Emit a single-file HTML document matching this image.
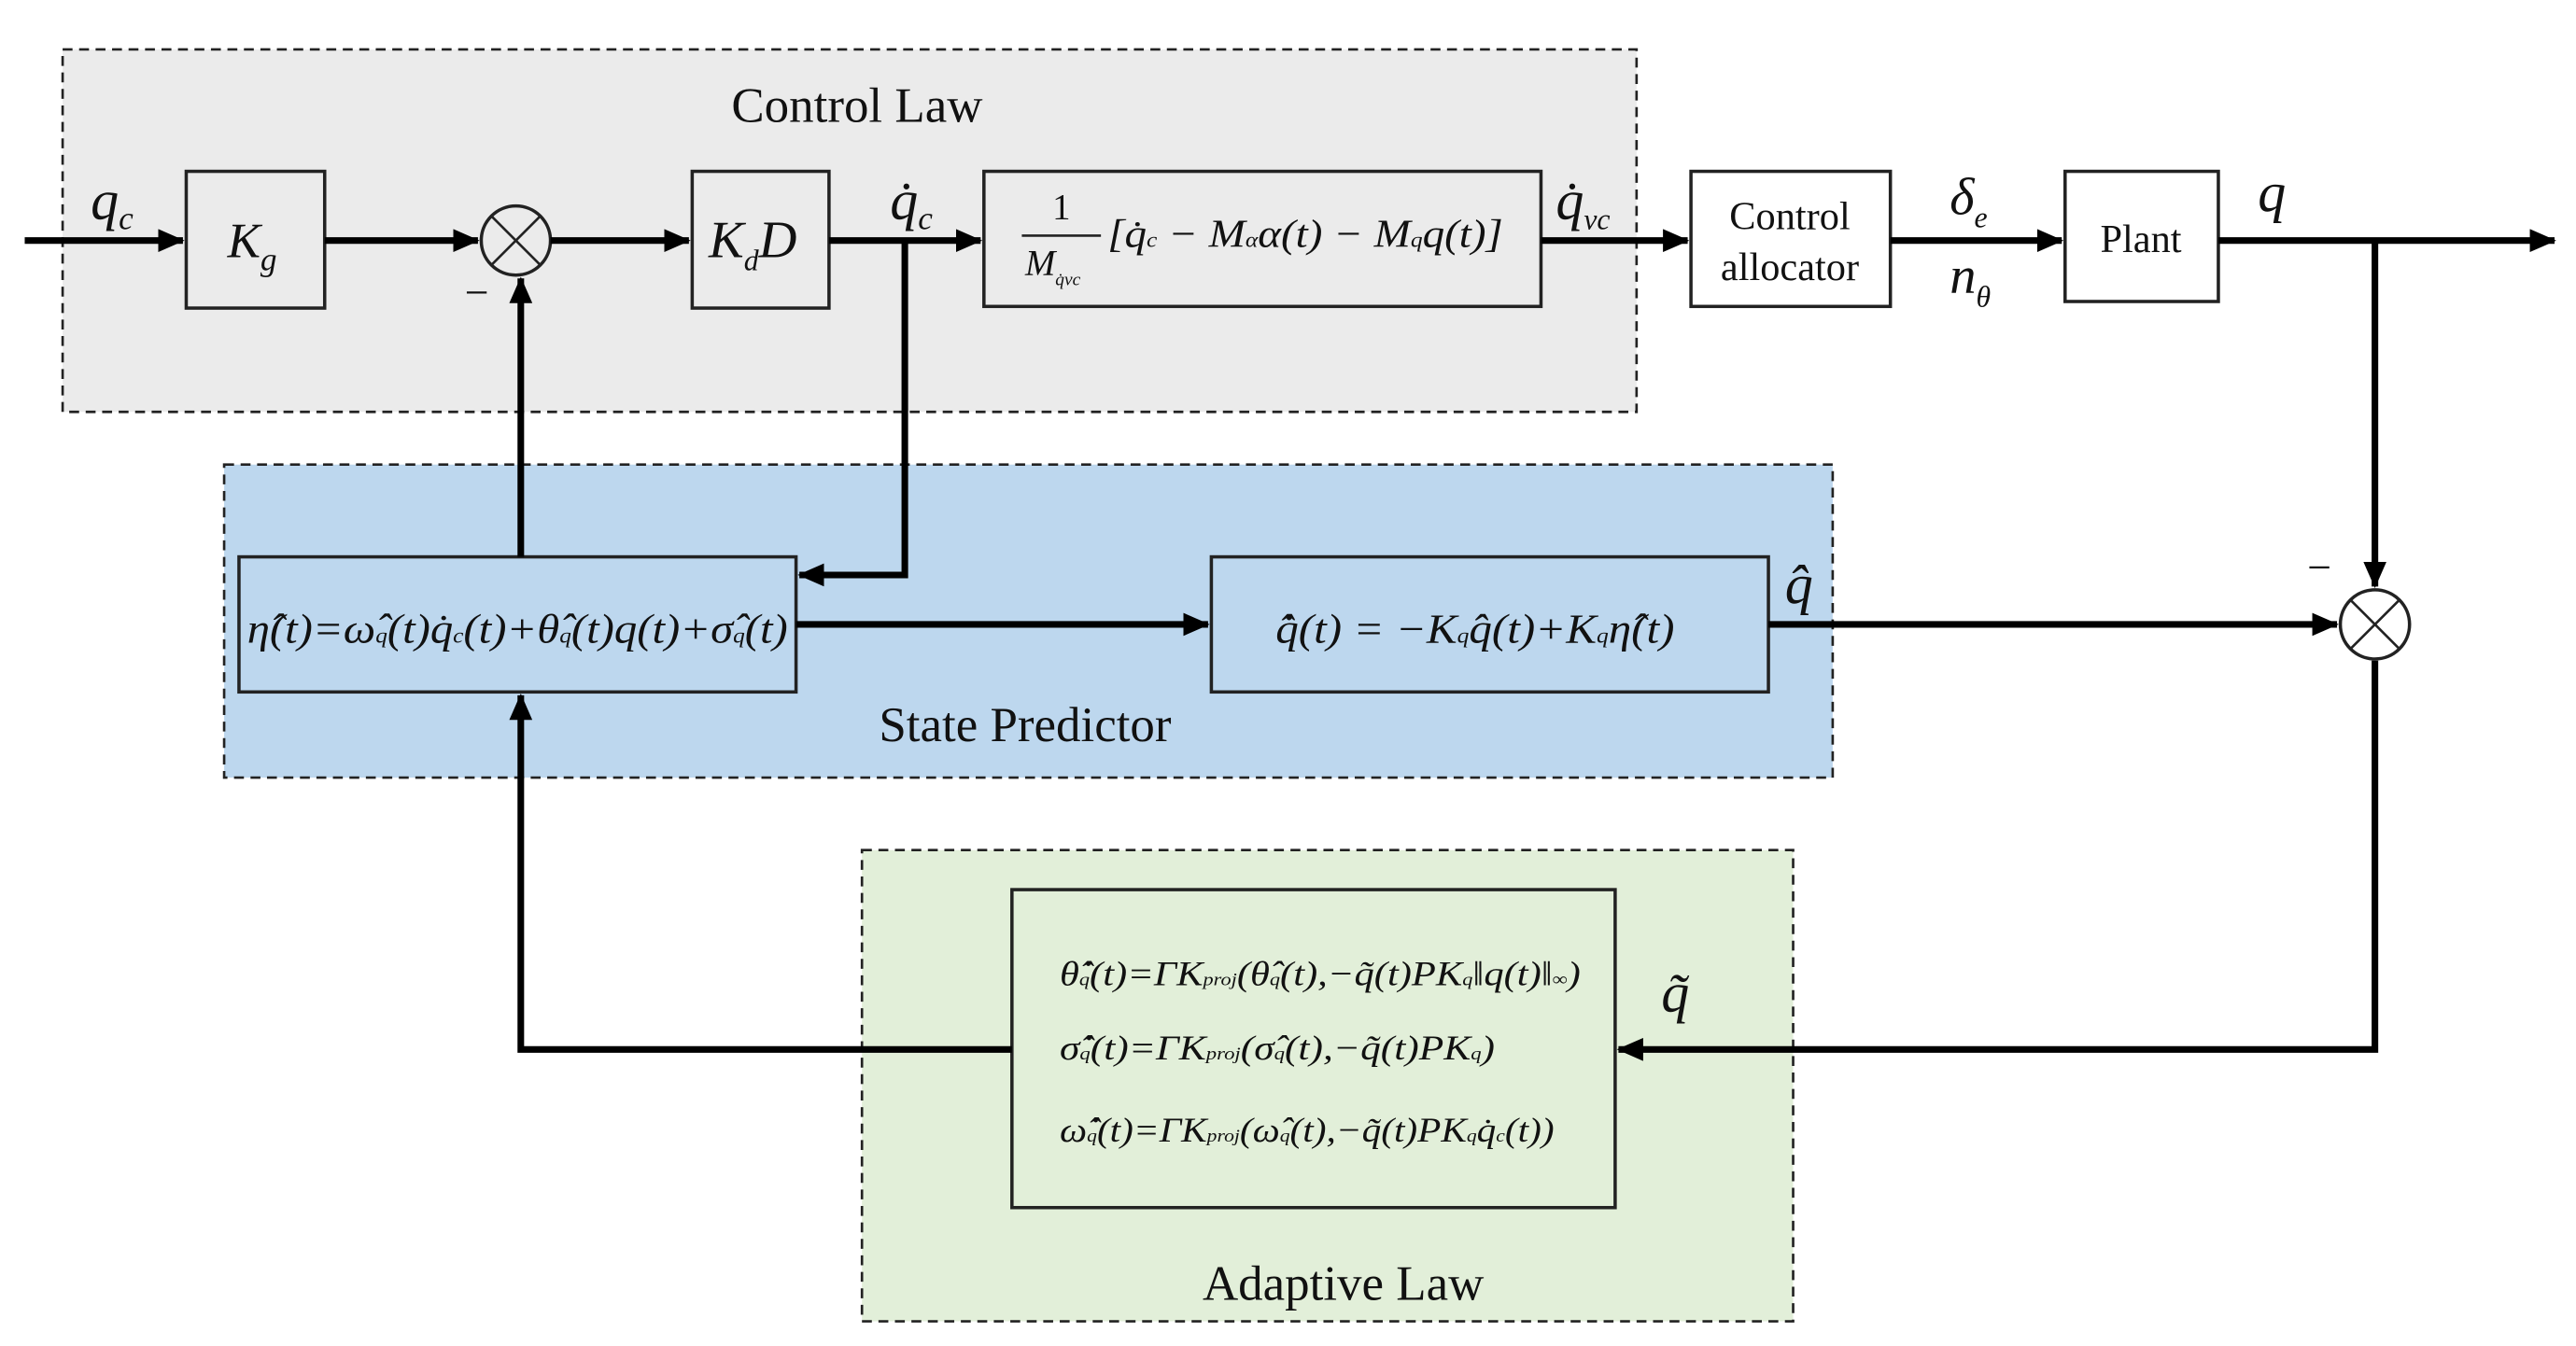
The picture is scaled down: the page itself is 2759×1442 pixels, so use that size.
<!DOCTYPE html>
<html><head><meta charset="utf-8"><style>
html,body{margin:0;padding:0;background:#fff;}
svg{display:block;}
text{font-family:"Liberation Serif",serif;fill:#111;}
.m{font-style:italic;}
</style></head><body>
<svg width="2759" height="1442" viewBox="0 0 1563 817" preserveAspectRatio="none" xmlns="http://www.w3.org/2000/svg">
<defs>
<marker id="a" markerWidth="10" markerHeight="10" refX="9" refY="5" orient="auto" markerUnits="userSpaceOnUse" viewBox="0 0 10 10">
<path d="M0,0 L10,5 L0,10 Z" fill="#000"/></marker>
<marker id="b" markerWidth="16" markerHeight="14" refX="15" refY="7" orient="auto" markerUnits="userSpaceOnUse" viewBox="0 0 16 14">
<path d="M0,0 L16,7 L0,14 Z" fill="#000"/></marker>
</defs>
<rect width="1563" height="817" fill="#fff"/>
<!-- group boxes -->
<rect x="38" y="30" width="955" height="220" fill="#ebebeb" stroke="#222" stroke-width="1.5" stroke-dasharray="6,4"/>
<rect x="136" y="282" width="976" height="190" fill="#bdd7ee" stroke="#222" stroke-width="1.5" stroke-dasharray="6,4"/>
<rect x="523" y="516" width="565" height="286" fill="#e2efd9" stroke="#222" stroke-width="1.5" stroke-dasharray="6,4"/>
<text x="520" y="74" font-size="30" text-anchor="middle">Control Law</text>
<text x="622" y="450" font-size="30" text-anchor="middle">State Predictor</text>
<text x="815" y="789" font-size="30" text-anchor="middle">Adaptive Law</text>

<!-- blocks -->
<g fill="none" stroke="#222" stroke-width="2">
<rect x="113" y="104" width="84" height="83"/>
<rect x="420" y="104" width="83" height="83"/>
<rect x="597" y="104" width="338" height="82"/>
<rect x="1026" y="104" width="121" height="82" fill="#fff"/>
<rect x="1253" y="104" width="93" height="79" fill="#fff"/>
<rect x="145" y="338" width="338" height="82"/>
<rect x="735" y="338" width="338" height="82"/>
<rect x="614" y="540" width="366" height="193"/>
<circle cx="313" cy="146" r="21"/>
<circle cx="1441" cy="379" r="21"/>
</g>
<g stroke="#222" stroke-width="1.5">
<line x1="298" y1="131" x2="328" y2="161"/><line x1="328" y1="131" x2="298" y2="161"/>
<line x1="1426" y1="364" x2="1456" y2="394"/><line x1="1456" y1="364" x2="1426" y2="394"/>
</g>

<!-- connectors -->
<g stroke="#000" stroke-width="4" fill="none">
<line x1="15" y1="146" x2="111" y2="146" marker-end="url(#b)"/>
<line x1="197" y1="146" x2="290" y2="146" marker-end="url(#b)"/>
<line x1="334" y1="146" x2="418" y2="146" marker-end="url(#b)"/>
<line x1="503" y1="146" x2="595" y2="146" marker-end="url(#b)"/>
<line x1="935" y1="146" x2="1024" y2="146" marker-end="url(#b)"/>
<line x1="1147" y1="146" x2="1251" y2="146" marker-end="url(#b)"/>
<line x1="1346" y1="146" x2="1550" y2="146" marker-end="url(#b)"/>
<polyline points="549,146 549,349 485,349" marker-end="url(#b)"/>
<line x1="316" y1="338" x2="316" y2="169" marker-end="url(#b)"/>
<line x1="1441" y1="146" x2="1441" y2="356" marker-end="url(#b)"/>
<line x1="483" y1="379" x2="733" y2="379" marker-end="url(#b)"/>
<line x1="1073" y1="379" x2="1418" y2="379" marker-end="url(#b)"/>
<polyline points="1441,401 1441,637 982,637" marker-end="url(#b)"/>
<polyline points="614,637 316,637 316,422" marker-end="url(#b)"/>
</g>
<text x="282" y="186" font-size="26">−</text>
<text x="1400" y="353" font-size="26">−</text>

<!-- labels -->
<text class="m" x="55" y="133" font-size="34">q<tspan font-size="20" dy="6">c</tspan></text>
<text class="m" x="138" y="156" font-size="30">K<tspan font-size="20" dy="8">g</tspan></text>
<text class="m" x="430" y="156" font-size="32">K<tspan font-size="18" dy="8">d</tspan><tspan dy="-8">D</tspan></text>
<text class="m" x="540" y="133" font-size="34">q̇<tspan font-size="20" dy="6">c</tspan></text>
<text class="m" x="944" y="133" font-size="34">q̇<tspan font-size="18" dy="6">vc</tspan></text>
<text x="644" y="133" font-size="22" text-anchor="middle">1</text>
<line x1="620" y1="143" x2="668" y2="143" stroke="#222" stroke-width="1.5"/>
<text class="m" x="622" y="167" font-size="22">M<tspan font-size="11" dy="6">q̇vc</tspan></text>
<text class="m" x="672" y="150" font-size="24" textLength="240" lengthAdjust="spacingAndGlyphs">[q̇<tspan font-size="13">c</tspan> − M<tspan font-size="13">α</tspan>α(t) − M<tspan font-size="13">q</tspan>q(t)]</text>
<text x="1086" y="139" font-size="24" text-anchor="middle">Control</text>
<text x="1086" y="170" font-size="24" text-anchor="middle">allocator</text>
<text x="1299" y="153" font-size="24" text-anchor="middle">Plant</text>
<text class="m" x="1183" y="130" font-size="32">δ<tspan font-size="18" dy="8">e</tspan></text>
<text class="m" x="1183" y="178" font-size="32">n<tspan font-size="18" dy="8">θ</tspan></text>
<text class="m" x="1370" y="128" font-size="34">q</text>
<text class="m" x="1083" y="366" font-size="34">q̂</text>
<text class="m" x="1008" y="614" font-size="34">q̃</text>

<text class="m" x="150" y="390" font-size="25" textLength="328" lengthAdjust="spacingAndGlyphs">η̂(t)=ω̂<tspan font-size="13">q</tspan>(t)q̇<tspan font-size="13">c</tspan>(t)+θ̂<tspan font-size="13">q</tspan>(t)q(t)+σ̂<tspan font-size="13">q</tspan>(t)</text>
<text class="m" x="774" y="390" font-size="25" textLength="242" lengthAdjust="spacingAndGlyphs">q̂̇(t) = −K<tspan font-size="13">q</tspan>q̂(t)+K<tspan font-size="13">q</tspan>η̂(t)</text>
<text class="m" x="643" y="598" font-size="21" textLength="316" lengthAdjust="spacingAndGlyphs">θ̂̇<tspan font-size="11">q</tspan>(t)=ΓK<tspan font-size="11">proj</tspan>(θ̂<tspan font-size="11">q</tspan>(t),−q̃(t)PK<tspan font-size="11">q</tspan>‖q(t)‖<tspan font-size="11">∞</tspan>)</text>
<text class="m" x="643" y="643" font-size="21" textLength="264" lengthAdjust="spacingAndGlyphs">σ̂̇<tspan font-size="11">q</tspan>(t)=ΓK<tspan font-size="11">proj</tspan>(σ̂<tspan font-size="11">q</tspan>(t),−q̃(t)PK<tspan font-size="11">q</tspan>)</text>
<text class="m" x="643" y="693" font-size="21" textLength="300" lengthAdjust="spacingAndGlyphs">ω̂̇<tspan font-size="11">q</tspan>(t)=ΓK<tspan font-size="11">proj</tspan>(ω̂<tspan font-size="11">q</tspan>(t),−q̃(t)PK<tspan font-size="11">q</tspan>q̇<tspan font-size="11">c</tspan>(t))</text>
</svg>
</body></html>
